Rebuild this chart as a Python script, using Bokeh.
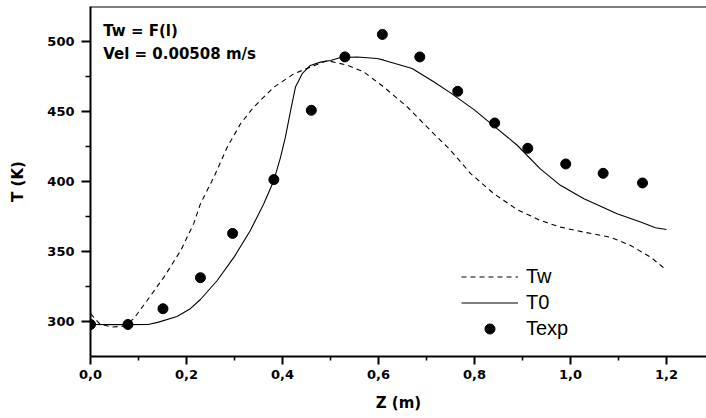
from bokeh.plotting import figure
from bokeh.models import (Range1d, FixedTicker, CustomJSTickFormatter, Legend,
                          LegendItem, Label, Span)
from bokeh.embed import file_html
from bokeh.resources import INLINE

# ---- data ----
z_tw = [0.000, 0.020, 0.045, 0.068, 0.090, 0.118, 0.153, 0.188, 0.215, 0.229,
        0.257, 0.285, 0.3125, 0.340, 0.382, 0.424, 0.458, 0.493, 0.535, 0.569,
        0.611, 0.660, 0.701, 0.750, 0.792, 0.840, 0.889, 0.937, 0.979, 1.028,
        1.083, 1.125, 1.167, 1.200]
t_tw = [305.3, 297.8, 295.8, 296.3, 301.7, 314.8, 331.5, 350.6, 369.8, 384.0,
        403.1, 424.6, 441.3, 453.2, 467.5, 477.1, 481.8, 486.5, 483.2, 478.4,
        467.6, 453.3, 439.0, 422.3, 405.6, 391.3, 379.8, 372.1, 367.3, 363.7,
        360.1, 354.2, 345.8, 336.5]

z_t0 = [0.000, 0.060, 0.120, 0.142, 0.180, 0.208, 0.229, 0.264, 0.299, 0.333,
        0.361, 0.382, 0.396, 0.406, 0.417, 0.427, 0.441, 0.458, 0.479, 0.500,
        0.521, 0.556, 0.597, 0.611, 0.670, 0.715, 0.750, 0.799, 0.847, 0.889,
        0.937, 0.979, 1.028, 1.097, 1.146, 1.177, 1.200]
t_t0 = [297.6, 297.5, 297.6, 299.3, 303.4, 308.9, 315.5, 329.1, 345.8, 364.9,
        384.0, 400.7, 417.4, 431.7, 450.8, 467.5, 477.1, 483.0, 485.4, 486.6,
        488.7, 489.1, 488.0, 486.8, 480.8, 471.3, 463.4, 451.4, 437.8, 425.9,
        409.0, 397.2, 387.6, 376.9, 370.9, 366.9, 365.6]

z_exp = [0.000, 0.078, 0.151, 0.229, 0.296, 0.382, 0.460, 0.530, 0.608, 0.686,
         0.765, 0.842, 0.911, 0.990, 1.068, 1.150]
t_exp = [297.6, 297.6, 308.9, 331.1, 362.8, 401.3, 450.9, 489.1, 505.2, 489.1,
         464.5, 441.8, 423.7, 412.5, 405.8, 398.9]

x_ticks = [0.0, 0.2, 0.4, 0.6, 0.8, 1.0, 1.2]
x_tick_labels = ["0,0", "0,2", "0,4", "0,6", "0,8", "1,0", "1,2"]
x_minor = [0.1, 0.3, 0.5, 0.7, 0.9, 1.1]
y_ticks = [300, 350, 400, 450, 500]
y_minor = [325, 375, 425, 475]

series_labels = ["Tw", "T0", "Texp"]
note_lines = ["Tw = F(l)", "Vel = 0.00508 m/s"]

# ---- figure ----
X_END = 1.2833
Y_START, Y_END = 274.7, 525.2
p = figure(width=706, height=418, output_backend="svg", toolbar_location=None,
           x_range=Range1d(0, X_END), y_range=Range1d(Y_START, Y_END),
           min_border_left=90, min_border_right=0, min_border_top=6,
           min_border_bottom=62)
p.outline_line_color = None
p.grid.visible = False
p.background_fill_color = "white"
p.border_fill_color = "white"

FONT = "DejaVu Sans"
for ax in (p.xaxis[0], p.yaxis[0]):
    ax.axis_line_width = 2
    ax.axis_line_color = "black"
    ax.major_tick_line_width = 2
    ax.minor_tick_line_width = 1.5
    ax.major_tick_in = 0
    ax.minor_tick_in = 0
    ax.major_label_text_font = FONT
    ax.major_label_text_font_style = "bold"
    ax.major_label_text_font_size = "13px"
    ax.major_label_text_color = "black"
    ax.axis_label_text_font = FONT
    ax.axis_label_text_font_style = "bold"
    ax.axis_label_text_font_size = "15px"
    ax.axis_label_text_color = "black"

p.xaxis[0].ticker = FixedTicker(ticks=x_ticks, minor_ticks=x_minor)
p.xaxis[0].formatter = CustomJSTickFormatter(
    args=dict(tvals=x_ticks, tlabels=x_tick_labels),
    code="""
for (let i = 0; i < tvals.length; i++) {
  if (Math.abs(tvals[i] - tick) < 1e-9) return tlabels[i];
}
return '';
""")
p.xaxis[0].major_tick_out = 8
p.xaxis[0].minor_tick_out = 4
p.xaxis[0].major_label_standoff = 5
p.xaxis[0].axis_label = "Z (m)"
p.xaxis[0].axis_label_standoff = 12

p.yaxis[0].ticker = FixedTicker(ticks=y_ticks, minor_ticks=y_minor)
p.yaxis[0].major_tick_out = 9
p.yaxis[0].minor_tick_out = 5
p.yaxis[0].major_label_standoff = 7
p.yaxis[0].axis_label = "T (K)"
p.yaxis[0].axis_label_standoff = 17

# top frame line
p.add_layout(Span(location=Y_END, dimension="width", line_color="black",
                  line_width=2))

r_tw = p.line(z_tw, t_tw, line_color="black", line_width=1.1, line_dash="5 4")
r_t0 = p.line(z_t0, t_t0, line_color="black", line_width=1.1)
r_exp = p.scatter(z_exp, t_exp, size=10, fill_color="black", line_color="black",
                  marker="circle")

legend = Legend(
    items=[LegendItem(label=series_labels[0], renderers=[r_tw]),
           LegendItem(label=series_labels[1], renderers=[r_t0]),
           LegendItem(label=series_labels[2], renderers=[r_exp])],
    location=(371, 15), orientation="vertical",
    label_text_font="Liberation Sans", label_text_font_size="20px",
    label_text_color="black",
    glyph_width=57, glyph_height=25, label_height=20, label_standoff=8,
    spacing=1, padding=0, margin=0,
    border_line_color=None, background_fill_alpha=0)
p.add_layout(legend)

p.add_layout(Label(x=0.0265, y=507.6, text=note_lines[0], text_font=FONT,
                   text_font_style="bold", text_font_size="15px",
                   text_color="black", text_baseline="alphabetic"))
p.add_layout(Label(x=0.0265, y=491.2, text=note_lines[1], text_font=FONT,
                   text_font_style="bold", text_font_size="15px",
                   text_color="black", text_baseline="alphabetic"))

open("out.html", "w").write(file_html(p, INLINE))
